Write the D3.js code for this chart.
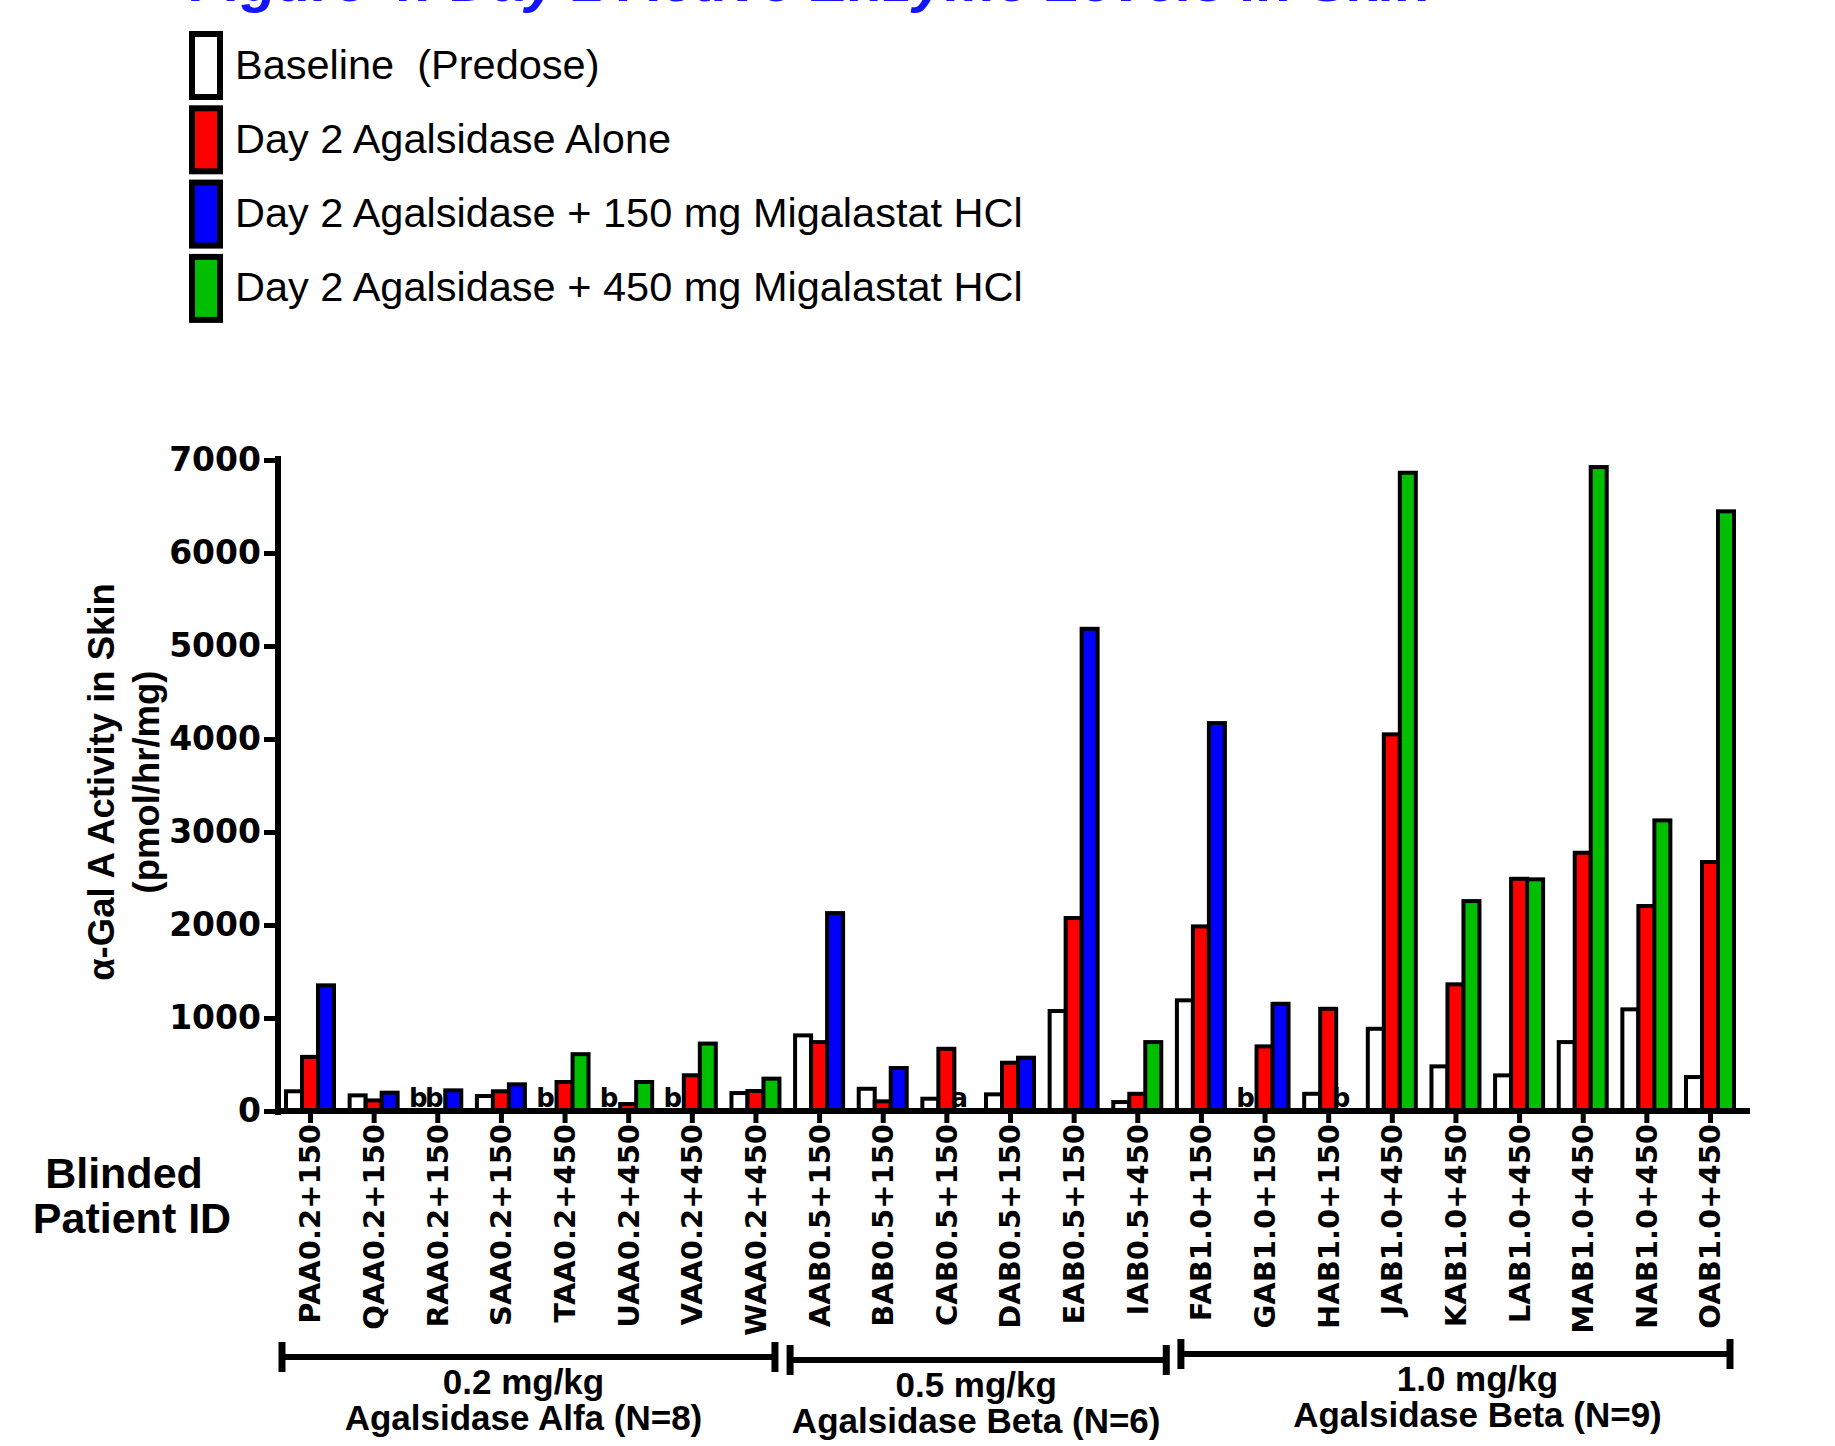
<!DOCTYPE html>
<html>
<head>
<meta charset="utf-8">
<script src="https://cdn.jsdelivr.net/npm/d3@7"></script>
<style>
  html, body { margin: 0; padding: 0; background: #fff; }
  svg { display: block; }
  text { white-space: pre; }
</style>
</head>
<body>
<svg id="chart" width="1835" height="1446"></svg>
<script>
// Blinded patient IDs (dose group 0.2 / 0.5 / 1.0 mg/kg, + migalastat dose)
const categories = [
  "PAA0.2+150", "QAA0.2+150", "RAA0.2+150", "SAA0.2+150", "TAA0.2+450",
  "UAA0.2+450", "VAA0.2+450", "WAA0.2+450",
  "AAB0.5+150", "BAB0.5+150", "CAB0.5+150", "DAB0.5+150", "EAB0.5+150", "IAB0.5+450",
  "FAB1.0+150", "GAB1.0+150", "HAB1.0+150", "JAB1.0+450", "KAB1.0+450",
  "LAB1.0+450", "MAB1.0+450", "NAB1.0+450", "OAB1.0+450"
];

// alpha-Gal A activity in skin (pmol/hr/mg); null = no value (see notes)
const baselineValues = [212, 168, null, 161, null, null, null, 193,
  813, 239, 132, 179, 1075, 96,
  1190, null, 185, 884, 480, 383, 741, 1093, 365];
const aloneValues = [582, 114, null, 212, 312, 75, 384, 215,
  741, 104, 669, 519, 2075, 185,
  1985, 695, 1099, 4050, 1362, 2497, 2777, 2204, 2677];
const comboValues = [1351, 197, 222, 287, 611, 312, 725, 348,
  2128, 462, null, 573, 5185, 741,
  4171, 1153, null, 6863, 2257, 2491, 6924, 3125, 6448];

// footnote letters drawn in place of missing bars
const baselineNotes = [null, null, "b", null, "b", "b", "b", null,
  null, null, null, null, null, null,
  null, "b", null, null, null, null, null, null, null];
const aloneNotes = [null, null, "b", null, null, null, null, null,
  null, null, null, null, null, null,
  null, null, null, null, null, null, null, null, null];
const comboNotes = [null, null, null, null, null, null, null, null,
  null, null, "a", null, null, null,
  null, null, "b", null, null, null, null, null, null];

const yTicks = [0, 1000, 2000, 3000, 4000, 5000, 6000, 7000];

const seriesNames = [
  "Baseline  (Predose)",
  "Day 2 Agalsidase Alone",
  "Day 2 Agalsidase + 150 mg Migalastat HCl",
  "Day 2 Agalsidase + 450 mg Migalastat HCl"
];
const seriesColors = ["#ffffff", "#ff0000", "#0000ff", "#00be00"];

const groupDoses = ["0.2 mg/kg", "0.5 mg/kg", "1.0 mg/kg"];
const groupAgents = ["Agalsidase Alfa (N=8)", "Agalsidase Beta (N=6)", "Agalsidase Beta (N=9)"];
const groupSizes = [8, 6, 9];

const titleText = "Figure 4: Day 2 Active Enzyme Levels in Skin";

const svg = d3.select("#chart");
const SANS = "'Liberation Sans', Arial, sans-serif";
const WIDE = "'DejaVu Sans', sans-serif";

const x = d3.scalePoint().domain(categories).range([310, 1710]);
const y = d3.scaleLinear().domain([0, 7000]).range([1111, 460]);
const axisX = 278;
const slot = 16;

// title (runs off the top edge)
svg.append("text")
  .attr("x", 190).attr("y", 1)
  .attr("font-family", SANS).attr("font-weight", "bold").attr("font-style", "italic")
  .attr("font-size", 58).attr("fill", "#1414ff")
  .text(titleText);

// legend
const legend = svg.append("g");
seriesNames.forEach((name, i) => {
  const top = 34 + i * 74.3;
  legend.append("rect")
    .attr("x", 192).attr("y", top).attr("width", 28).attr("height", 63)
    .attr("fill", seriesColors[i]).attr("stroke", "#000").attr("stroke-width", 6);
  legend.append("text")
    .attr("x", 235).attr("y", top + 31.5 + 13)
    .attr("font-family", SANS).attr("font-size", 41.5).attr("fill", "#000")
    .text(name);
});

// bars
const isHigh = d => d.endsWith("+450");
const rows = categories.map((c, i) => ({
  cat: c,
  bars: [
    { v: baselineValues[i], note: baselineNotes[i], color: seriesColors[0], off: -slot },
    { v: aloneValues[i], note: aloneNotes[i], color: seriesColors[1], off: 0 },
    { v: comboValues[i], note: comboNotes[i], color: isHigh(c) ? seriesColors[3] : seriesColors[2], off: slot }
  ]
}));

const barG = svg.append("g");
rows.forEach(r => {
  r.bars.forEach(b => {
    if (b.v != null) {
      barG.append("rect")
        .attr("x", x(r.cat) + b.off - slot / 2)
        .attr("y", y(b.v))
        .attr("width", slot)
        .attr("height", y(0) - y(b.v))
        .attr("fill", b.color).attr("stroke", "#000").attr("stroke-width", 4);
    }
    if (b.note) {
      barG.append("text")
        .attr("x", x(r.cat) + b.off - 3).attr("y", y(0) - 4)
        .attr("text-anchor", "middle")
        .attr("font-family", WIDE).attr("font-weight", "bold").attr("font-size", 26)
        .text(b.note);
    }
  });
});

// y axis
const yAxis = svg.append("g")
  .attr("transform", `translate(${axisX},0)`)
  .call(d3.axisLeft(y).tickValues(yTicks).tickSize(14).tickSizeOuter(0).tickPadding(3).tickFormat(d3.format("d")));
yAxis.select(".domain").remove();
yAxis.append("line")
  .attr("x1", 0).attr("x2", 0).attr("y1", y(7000) - 4).attr("y2", y(0) + 4)
  .attr("stroke", "#000").attr("stroke-width", 6);
yAxis.selectAll(".tick line").attr("stroke", "#000").attr("stroke-width", 5);
yAxis.selectAll(".tick text")
  .attr("font-family", WIDE).attr("font-weight", "bold").attr("font-size", 33).attr("fill", "#000");

// x axis
const xAxis = svg.append("g")
  .attr("transform", `translate(0,${y(0)})`)
  .call(d3.axisBottom(x).tickSize(12).tickSizeOuter(0).tickFormat(""));
xAxis.select(".domain").remove();
xAxis.append("line")
  .attr("x1", axisX).attr("x2", x(categories[categories.length - 1]) + 40)
  .attr("y1", 0).attr("y2", 0)
  .attr("stroke", "#000").attr("stroke-width", 6);
xAxis.selectAll(".tick line").attr("stroke", "#000").attr("stroke-width", 5);

// rotated patient IDs
svg.append("g").selectAll("text")
  .data(categories)
  .join("text")
  .attr("transform", d => `translate(${x(d)},${y(0) + 13}) rotate(-90)`)
  .attr("dy", "0.36em")
  .attr("text-anchor", "end")
  .attr("font-family", WIDE).attr("font-weight", "bold").attr("font-size", 29)
  .text(d => d);

// y axis title
const yTitle = svg.append("g").attr("transform", "translate(0,782)");
yTitle.append("text")
  .attr("transform", "translate(101,0) rotate(-90)")
  .attr("dy", "0.35em").attr("text-anchor", "middle")
  .attr("font-family", SANS).attr("font-weight", "bold").attr("font-size", 36.5)
  .text("\u03b1-Gal A Activity in Skin");
yTitle.append("text")
  .attr("transform", "translate(146,0) rotate(-90)")
  .attr("dy", "0.35em").attr("text-anchor", "middle")
  .attr("font-family", SANS).attr("font-weight", "bold").attr("font-size", 36.5)
  .text("(pmol/hr/mg)");

// x axis title
const xTitle = svg.append("text")
  .attr("text-anchor", "middle")
  .attr("font-family", SANS).attr("font-weight", "bold").attr("font-size", 43);
xTitle.append("tspan").attr("x", 124).attr("y", 1188).text("Blinded");
xTitle.append("tspan").attr("x", 132).attr("y", 1233).text("Patient ID");

// dose group brackets: [left pad, right pad, vertical shift, label shift] per group
const bracketLayout = [[null, 19.5, 0, -5], [29, 29, 3, -2], [20, 20, -3, 22]];
let start = 0;
const brackets = svg.append("g");
groupSizes.forEach((n, g) => {
  const first = categories[start], last = categories[start + n - 1];
  const [padL, padR, dy, dx] = bracketLayout[g];
  const x1 = padL == null ? axisX + 4 : x(first) - padL;
  const x2 = x(last) + padR;
  const by = 1357 + dy;
  brackets.append("line").attr("x1", x1).attr("x2", x2).attr("y1", by).attr("y2", by)
    .attr("stroke", "#000").attr("stroke-width", 6);
  [x1, x2].forEach(cx => {
    brackets.append("line").attr("x1", cx).attr("x2", cx).attr("y1", by - 15).attr("y2", by + 15)
      .attr("stroke", "#000").attr("stroke-width", 7);
  });
  const mid = (x1 + x2) / 2 + dx;
  brackets.append("text")
    .attr("x", mid).attr("y", by + 37).attr("text-anchor", "middle")
    .attr("font-family", SANS).attr("font-weight", "bold").attr("font-size", 35)
    .text(groupDoses[g]);
  brackets.append("text")
    .attr("x", mid).attr("y", by + 73).attr("text-anchor", "middle")
    .attr("font-family", SANS).attr("font-weight", "bold").attr("font-size", 35)
    .text(groupAgents[g]);
  start += n;
});
</script>
</body>
</html>
